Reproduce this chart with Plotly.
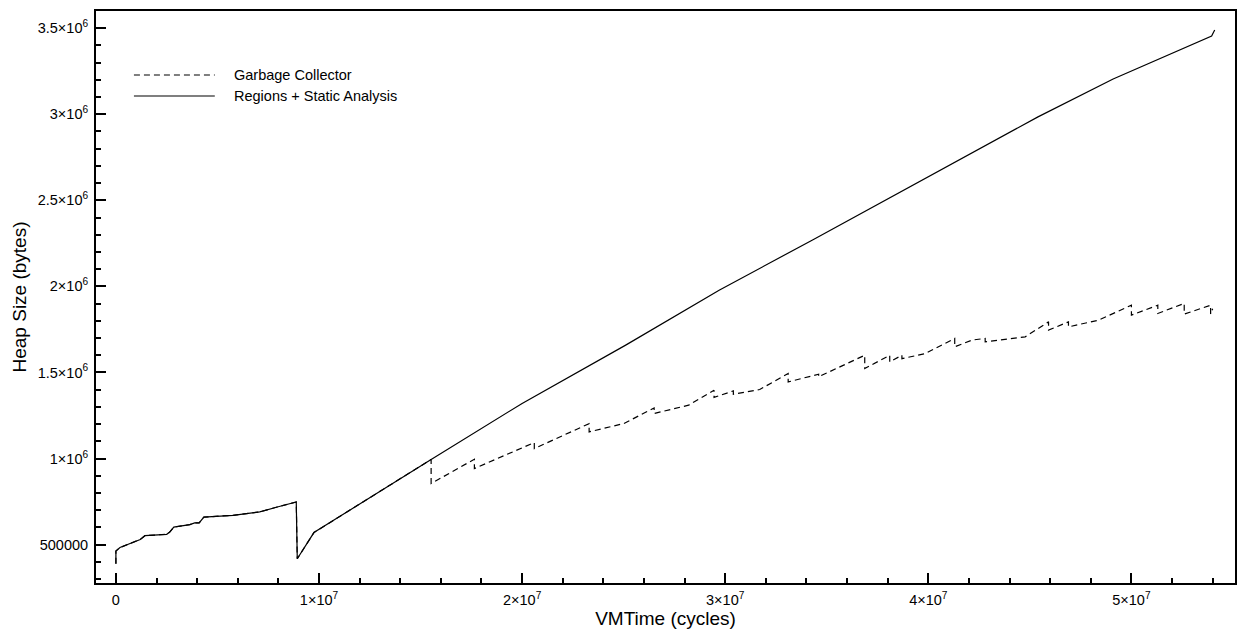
import plotly.graph_objects as go

# ---- data (x in millions of cycles, y in thousands of bytes) ----
shared_x_m = [0, 0, 0.2, 0.8, 1.2, 1.43, 2.5, 2.65, 2.85, 3.64, 3.88, 4.1, 4.33, 5.77,
              7.08, 7.9, 8.39, 8.88, 8.93, 9.75, 15.52]
shared_y_k = [389, 463, 483, 509, 530, 552, 560, 573, 602, 616, 626, 626, 660, 670,
              690, 717, 734, 748, 418, 570, 995]

rsa_tail_x_m = [20.0, 25.1, 29.7, 34.3, 40.0, 45.4, 49.1, 53.95, 54.1]
rsa_tail_y_k = [1320, 1659, 1978, 2270, 2636, 2985, 3205, 3455, 3490]

gc_tail_x_m = [15.52, 17.65, 17.65, 20.6, 20.6, 23.3, 23.3, 25.0, 26.5, 26.5,
               28.2, 29.45, 29.45, 30.4, 30.4, 31.7, 33.1, 33.1, 34.6, 34.6,
               36.4, 36.87, 36.87, 38.1, 38.1, 38.7, 38.7, 39.85, 41.3, 41.3,
               42.15, 42.8, 42.8, 44.77, 45.92, 45.92, 46.9, 46.9, 48.38, 50.0,
               50.0, 51.3, 51.3, 52.6, 52.6, 53.9, 53.9, 54.0]
gc_tail_y_k = [855, 996, 942, 1093, 1058, 1203, 1155, 1203, 1294, 1262,
               1310, 1397, 1355, 1393, 1374, 1401, 1494, 1445, 1490, 1475,
               1576, 1600, 1523, 1600, 1562, 1600, 1580, 1610, 1698, 1649,
               1688, 1698, 1678, 1707, 1794, 1746, 1794, 1765, 1804, 1891,
               1833, 1891, 1843, 1901, 1839, 1891, 1840, 1870]

x_tickvals = [0, 1e7, 2e7, 3e7, 4e7, 5e7]
x_ticktext = ["0", "1×10<sup>7</sup>", "2×10<sup>7</sup>", "3×10<sup>7</sup>",
              "4×10<sup>7</sup>", "5×10<sup>7</sup>"]
y_tickvals = [5e5, 1e6, 1.5e6, 2e6, 2.5e6, 3e6, 3.5e6]
y_ticktext = ["500000", "1×10<sup>6</sup>", "1.5×10<sup>6</sup>", "2×10<sup>6</sup>",
              "2.5×10<sup>6</sup>", "3×10<sup>6</sup>", "3.5×10<sup>6</sup>"]

series_names = ["Garbage Collector", "Regions + Static Analysis"]

rsa_x = [v * 1e6 for v in shared_x_m + rsa_tail_x_m]
rsa_y = [v * 1e3 for v in shared_y_k + rsa_tail_y_k]
gc_x = [v * 1e6 for v in shared_x_m + gc_tail_x_m]
gc_y = [v * 1e3 for v in shared_y_k + gc_tail_y_k]

FONT = "Liberation Sans, Arial, Helvetica, sans-serif"

fig = go.Figure()
fig.add_trace(go.Scatter(x=rsa_x, y=rsa_y, mode="lines", name=series_names[1],
                         line=dict(color="black", width=1.2), showlegend=False))
fig.add_trace(go.Scatter(x=gc_x, y=gc_y, mode="lines", name=series_names[0],
                         line=dict(color="black", width=1.2, dash="6px,4px"),
                         showlegend=False))

W, H = 1238, 631
ml, mr, mt, mb = 96, 1, 11, 48
pw, ph = W - ml - mr, H - mt - mb

def px(xp):
    return (xp - ml) / pw

def py(yp):
    return (H - mb - yp) / ph

# manual legend (long samples like the original)
legend_rows = [(75, "6px,4px"), (96, "solid")]
for (yy, dash), name in zip(legend_rows, series_names):
    fig.add_shape(type="line", xref="paper", yref="paper",
                  x0=px(134), x1=px(215), y0=py(yy), y1=py(yy),
                  line=dict(color="black", width=1.2, dash=dash))
    fig.add_annotation(xref="paper", yref="paper", x=px(232), y=py(yy),
                       text=name, showarrow=False, xanchor="left", yanchor="middle",
                       font=dict(family=FONT, size=14.5, color="black"))

axis_common = dict(showline=True, linecolor="black", linewidth=2, mirror=True,
                   ticks="inside", tickcolor="black", tickwidth=1.5, ticklen=10,
                   showgrid=False, zeroline=False, tickmode="array",
                   ticklabelstandoff=3,
                   tickfont=dict(family=FONT, size=14.5, color="black"))

fig.update_xaxes(**axis_common, range=[-0.98e6, 5.51e7], tickvals=x_tickvals,
                 ticktext=x_ticktext,
                 minor=dict(dtick=2e6, tick0=0, ticks="inside", ticklen=5,
                            tickwidth=1.5, tickcolor="black", showgrid=False),
                 title=dict(text="VMTime (cycles)", standoff=0,
                            font=dict(family=FONT, size=19, color="black")))
fig.update_yaxes(**axis_common, range=[2.77e5, 3.6e6], tickvals=y_tickvals,
                 ticktext=y_ticktext,
                 minor=dict(dtick=1e5, tick0=0, ticks="inside", ticklen=5,
                            tickwidth=1.5, tickcolor="black", showgrid=False),
                 title=dict(text="Heap Size (bytes)", standoff=6,
                            font=dict(family=FONT, size=19, color="black")))

fig.update_layout(width=W, height=H, margin=dict(l=ml, r=mr, t=mt, b=mb),
                  paper_bgcolor="white", plot_bgcolor="white",
                  font=dict(family=FONT, color="black"))

fig.write_html("out.html")
